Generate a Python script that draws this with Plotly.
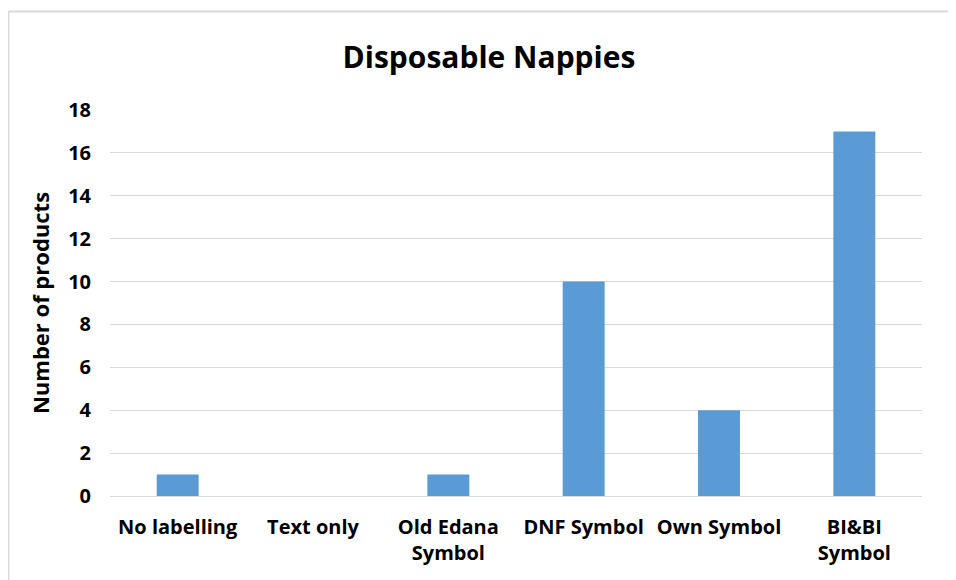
import plotly.graph_objects as go

categories = ["No labelling", "Text only", "Old Edana<br>Symbol", "DNF Symbol", "Own Symbol", "BI&BI<br>Symbol"]
values = [1, 0, 1, 10, 4, 17]
y_ticks = [0, 2, 4, 6, 8, 10, 12, 14, 16, 18]

# page is rendered with an 8px body margin, so figure coords = page coords - 8
OFF = 8
W, H = 948, 572
L, R, T, B = 102, 34, 102, 84
pw, ph = W - L - R, H - T - B

def px_x(px):
    return (px - OFF - L) / pw

def px_y(py):
    return (H - B - (py - OFF)) / ph

font_family = "'Open Sans', sans-serif"
border = dict(color="#D9D9D9", width=2)

fig = go.Figure(go.Bar(
    x=categories, y=values,
    marker=dict(color="#5B9BD5", line=dict(width=0)),
    width=0.31,
))

fig.update_layout(
    width=W, height=H,
    margin=dict(l=L, r=R, t=T, b=B),
    paper_bgcolor="white", plot_bgcolor="white",
    title=dict(text="<b>Disposable Nappies</b>", x=(489 - OFF) / W, xanchor="center",
               y=1 - (57 - OFF) / H, yanchor="middle",
               font=dict(family=font_family, size=30, color="black")),
    font=dict(family=font_family, color="black"),
    showlegend=False,
    shapes=[
        dict(type="line", xref="paper", yref="paper",
             x0=px_x(8.5), x1=px_x(975), y0=px_y(11.5), y1=px_y(11.5), line=border, layer="below"),
        dict(type="line", xref="paper", yref="paper",
             x0=px_x(8.5), x1=px_x(8.5), y0=px_y(11.5), y1=px_y(600), line=border, layer="below"),
    ],
)

fig.update_xaxes(
    showgrid=False, showline=True, linecolor="#D9D9D9", linewidth=1,
    tickfont=dict(family=font_family, size=20, color="black", weight="bold"),
    ticks="", ticklabelstandoff=13,
)
fig.update_yaxes(
    range=[0, 18], tickvals=y_ticks, showgrid=True, gridcolor="#D9D9D9", gridwidth=1,
    zeroline=False, showline=False, ticks="", ticklabelstandoff=18,
    tickfont=dict(family=font_family, size=20, color="black", weight="bold"),
    title=dict(text="<b>Number of products</b>", standoff=12,
               font=dict(family=font_family, size=22, color="black")),
)

fig.write_html("out.html")
